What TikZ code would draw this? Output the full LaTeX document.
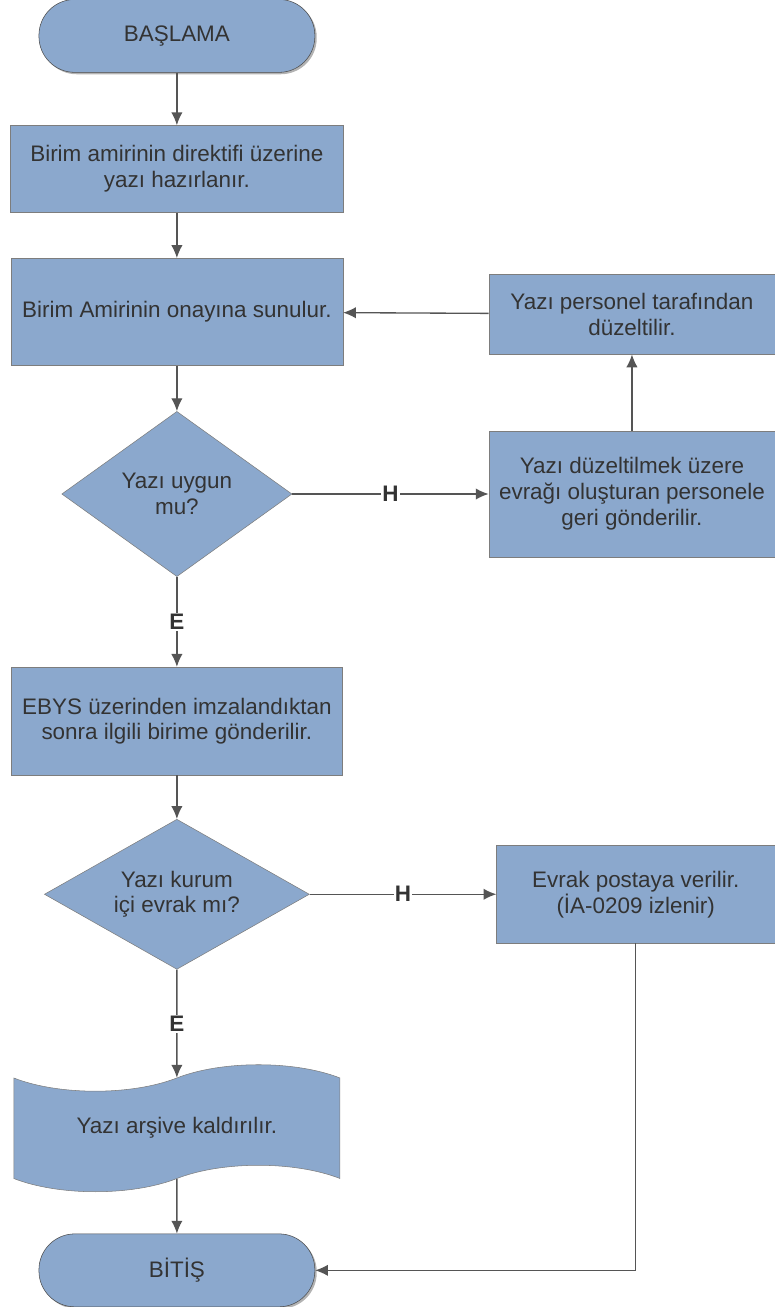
\documentclass[tikz,border=0pt]{standalone}
\usepackage{fontspec}
\setmainfont{Liberation Sans}
\usetikzlibrary{shapes.geometric, shapes.symbols, arrows.meta, shadows}

\definecolor{boxfill}{RGB}{139,168,205}
\definecolor{boxline}{RGB}{125,125,125}
\definecolor{textgray}{RGB}{51,51,51}
\definecolor{linegray}{RGB}{85,85,85}

\begin{document}
\begin{tikzpicture}[node distance=40mm, >={Latex[length=3.4mm, width=3mm]}, font=\fontsize{16.9}{19.5}\selectfont, block/.style={rectangle, draw=boxline, fill=boxfill, text=textgray, align=center, inner sep=1mm}, terminal/.style={rectangle, rounded corners=9.5mm, draw=black!70, fill=boxfill, text=textgray, minimum width=73mm, minimum height=19.3mm, drop shadow={shadow xshift=0.5mm, shadow yshift=-0.5mm, opacity=0.6}}, decision/.style={diamond, draw=boxline, fill=boxfill, text=textgray, align=center, inner sep=0pt}, archivebox/.style={tape, draw=boxline, fill=boxfill, text=textgray, tape bend height=7mm, minimum width=86.3mm, minimum height=33.6mm}, flow/.style={draw=linegray, line width=1pt}, answer/.style={fill=white, text=textgray, font=\fontsize{16.9}{19.5}\selectfont\bfseries, inner sep=1pt}]

  \useasboundingbox (-46.8mm, 9.5mm) rectangle (158.2mm, -336.3mm);

  \node[terminal] (start) {BAŞLAMA};
  \node[block, below of=start, node distance=35.2mm, minimum width=88.1mm, minimum height=23mm] (prep) {Birim amirinin direktifi üzerine\\yazı hazırlanır.};
  \node[block, below of=prep, node distance=37.8mm, minimum width=87.8mm, minimum height=28.3mm] (approval) {Birim Amirinin onayına sunulur.};
  \node[decision, aspect=1.39, below of=approval, node distance=48.2mm, minimum width=60.9mm, minimum height=43.7mm] (check) {Yazı uygun\\mu?};
  \node[block, right of=check, node distance=120.4mm, minimum width=75.7mm, minimum height=33.3mm] (fix) {Yazı düzeltilmek üzere\\evrağı oluşturan personele\\geri gönderilir.};
  \node[block, above of=fix, node distance=47.6mm, minimum width=75.7mm, minimum height=21.2mm] (corrected) {Yazı personel tarafından\\düzeltilir.};

  \node[block, below of=check, node distance=60.1mm, minimum width=87.6mm, minimum height=28.6mm] (sign) {EBYS üzerinden imzalandıktan\\sonra ilgili birime gönderilir.};
  \node[decision, aspect=1.77, below of=sign, node distance=45.8mm, minimum width=70.1mm, minimum height=39.7mm] (internal) {Yazı kurum\\içi evrak mı?};
  \node[block, right of=internal, node distance=121.4mm, minimum width=73.6mm, minimum height=25.7mm] (post) {Evrak postaya verilir.\\(İA-0209 izlenir)};
  \node[archivebox, below of=internal, node distance=61.9mm] (archive) {Yazı arşive kaldırılır.};
  \node[terminal, below of=archive, node distance=37.6mm] (finish) {BİTİŞ};

  \draw[flow, ->] (start) -- (prep);
  \draw[flow, ->] (prep) -- (approval);
  \draw[flow, ->] (approval) -- (check);
  \draw[flow, ->] (check) -- node[answer] {H} (fix);
  \draw[flow, ->] (fix) -- (corrected);
  \draw[flow, ->] (corrected) -- (approval);
  \draw[flow, ->] (check) -- node[answer] {E} (sign);
  \draw[flow, ->] (sign) -- (internal);
  \draw[flow, ->] (internal) -- node[answer] {H} (post);
  \draw[flow, ->] (internal) -- node[answer] {E} (archive);
  \draw[flow, ->] (archive) -- (finish);
  \draw[flow, ->] (post) |- (finish);
\end{tikzpicture}
\end{document}
